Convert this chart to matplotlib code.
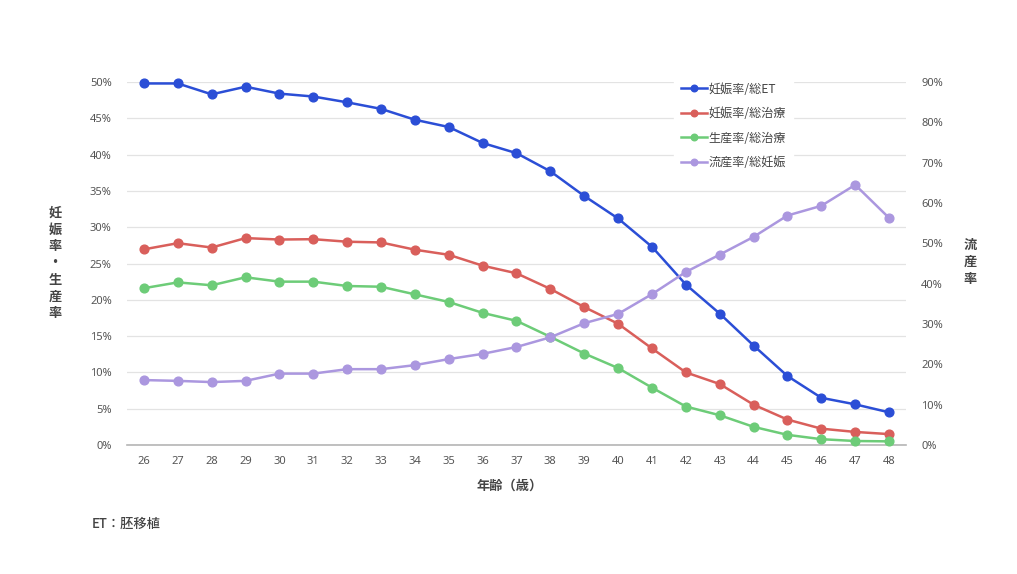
import matplotlib
matplotlib.use("Agg")
import matplotlib.pyplot as plt
from matplotlib.ticker import FuncFormatter, MultipleLocator

plt.rcParams['font.family'] = ['Noto Sans CJK JP', 'DejaVu Sans']

ages = list(range(26, 49))
preg_per_et = [49.8, 49.8, 48.3, 49.35, 48.4, 48.0, 47.2, 46.3, 44.8, 43.8, 41.6, 40.2,
               37.7, 34.3, 31.2, 27.3, 22.1, 18.1, 13.7, 9.5, 6.5, 5.6, 4.5]
preg_per_tx = [26.95, 27.8, 27.2, 28.5, 28.3, 28.35, 28.0, 27.9, 26.9, 26.2, 24.7, 23.65,
               21.5, 19.0, 16.7, 13.3, 10.0, 8.4, 5.55, 3.5, 2.25, 1.8, 1.5]
birth_per_tx = [21.6, 22.4, 22.0, 23.1, 22.5, 22.5, 21.9, 21.8, 20.75, 19.7, 18.2, 17.1,
                14.9, 12.6, 10.6, 7.9, 5.3, 4.1, 2.5, 1.4, 0.8, 0.55, 0.5]
misc_per_preg = [16.1, 15.9, 15.6, 15.9, 17.7, 17.7, 18.8, 18.8, 19.8, 21.3, 22.6, 24.3,
                 26.7, 30.2, 32.5, 37.4, 42.9, 47.2, 51.6, 56.9, 59.3, 64.5, 56.3]

labels = ['妊娠率/総ET', '妊娠率/総治療', '生産率/総治療', '流産率/総妊娠']
colors = ['#2b4ed6', '#d95f5b', '#6dcc78', '#ab97df']

fig = plt.figure(figsize=(10.17, 5.74), dpi=100)
ax = fig.add_axes([127/1017, 1-445/574, (906-127)/1017, (445-82)/574])
ax2 = ax.twinx()

lw = 1.8
ms = 6.3
h = []
for vals, c, lab in zip([preg_per_et, preg_per_tx, birth_per_tx], colors[:3], labels[:3]):
    l, = ax.plot(ages, vals, color=c, lw=lw, marker='o', ms=ms, label=lab, zorder=3, clip_on=False)
    h.append(l)
l4, = ax2.plot(ages, misc_per_preg, color=colors[3], lw=lw, marker='o', ms=ms, label=labels[3],
               zorder=3, clip_on=False)
h.append(l4)

ax.set_xlim(25.5, 48.5)
ax.set_ylim(0, 50)
ax2.set_ylim(0, 90)
ax.yaxis.set_major_locator(MultipleLocator(5))
ax2.yaxis.set_major_locator(MultipleLocator(10))
ax.yaxis.set_major_formatter(FuncFormatter(lambda v, p: f'{v:.0f}%'))
ax2.yaxis.set_major_formatter(FuncFormatter(lambda v, p: f'{v:.0f}%'))
ax.set_xticks(ages)
ax.set_xticklabels([str(a) for a in ages])

ax.grid(axis='y', color='#e3e3e3', lw=0.9, zorder=0)
ax.set_axisbelow(True)
for a in (ax, ax2):
    for s in ('top', 'left', 'right', 'bottom'):
        a.spines[s].set_visible(False)
    a.tick_params(length=0, labelsize=8, labelcolor='#555555')
    for t in a.get_xticklabels() + a.get_yticklabels():
        t.set_fontfamily(['Noto Sans', 'DejaVu Sans'])
ax.spines['bottom'].set_visible(True)
ax.spines['bottom'].set_color('#b5b5b5')
ax.spines['bottom'].set_linewidth(1.2)
ax.tick_params(axis='y', pad=11)
ax.tick_params(axis='x', pad=8)
ax2.tick_params(axis='y', pad=11)

leg = ax2.legend(handles=h, loc='upper left', bbox_to_anchor=((668-127)/779, 1.035),
                 frameon=True, facecolor='white', edgecolor='white', framealpha=1,
                 fontsize=8.7, labelcolor='#444444', labelspacing=0.95,
                 handlelength=2.1, handletextpad=0.15, borderpad=0.6, markerscale=0.75)
leg.set_zorder(10)

fig.text(55/1017, 1-263/574, '\n'.join('妊娠率・生産率'), ha='center', va='center',
         fontsize=9.5, fontweight='bold', color='#444444', linespacing=1.25)
fig.text(970/1017, 1-262/574, '\n'.join('流産率'), ha='center', va='center',
         fontsize=9.5, fontweight='bold', color='#444444', linespacing=1.25)
fig.text(510/1017, 1-486/574, '年齢（歳）', ha='center', va='center',
         fontsize=9.5, fontweight='bold', color='#444444')
fig.text(92/1017, 1-524/574, 'ET：胚移植', ha='left', va='center',
         fontsize=9.5, fontweight='medium', color='#444444')

fig.savefig('out.png', dpi=100, facecolor='white')
